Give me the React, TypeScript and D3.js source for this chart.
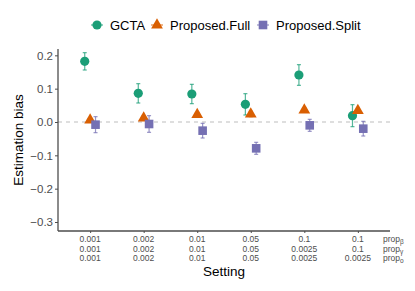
import React, { useEffect, useRef } from 'react';
import * as d3 from 'd3';

const settings = ['s1', 's2', 's3', 's4', 's5', 's6'];
const propBeta = ['0.001', '0.002', '0.01', '0.05', '0.1', '0.1'];
const propGamma = ['0.001', '0.002', '0.01', '0.05', '0.0025', '0.1'];
const propO = ['0.001', '0.002', '0.01', '0.05', '0.0025', '0.0025'];

const methods = ['GCTA', 'Proposed.Full', 'Proposed.Split'];
const colors = ['#1B9E77', '#D95F02', '#7570B3'];

const gctaMean = [0.182, 0.086, 0.084, 0.053, 0.141, 0.019];
const gctaErr = [0.026, 0.029, 0.029, 0.032, 0.031, 0.033];
const fullMean = [0.006, 0.012, 0.022, 0.024, 0.036, 0.034];
const fullErr = [0.006, 0.006, 0.006, 0.008, 0.006, 0.006];
const splitMean = [-0.008, -0.006, -0.026, -0.079, -0.010, -0.020];
const splitErr = [0.024, 0.025, 0.022, 0.018, 0.018, 0.022];

const yTicks = [0.2, 0.1, 0.0, -0.1, -0.2, -0.3];

const W = 415;
const H = 291;
const margin = { top: 49, right: 25, bottom: 60, left: 58 };

const App = () => {
  const svgRef = useRef<SVGSVGElement>(null);

  useEffect(() => {
    const svg = d3.select(svgRef.current);
    svg.selectAll('*').remove();
    const font = 'Liberation Sans, Arial, sans-serif';

    const x = d3.scalePoint().domain(settings).range([margin.left, W - margin.right]).padding(0.6);
    const y = d3.scaleLinear().domain([-0.327, 0.219]).range([H - margin.bottom, margin.top]);
    const dodge = 5.4;

    // zero line
    svg.append('line')
      .attr('x1', margin.left).attr('x2', W - margin.right)
      .attr('y1', y(0)).attr('y2', y(0))
      .attr('stroke', '#BDBDBD').attr('stroke-width', 1).attr('stroke-dasharray', '4,4');

    const series = [
      { mean: gctaMean, err: gctaErr, shape: 'circle', off: -dodge },
      { mean: fullMean, err: fullErr, shape: 'triangle', off: 0 },
      { mean: splitMean, err: splitErr, shape: 'square', off: dodge },
    ];

    const drawShape = (g: any, shape: string, cx: number, cy: number, col: string) => {
      if (shape === 'circle') {
        g.append('circle').attr('cx', cx).attr('cy', cy).attr('r', 4.6).attr('fill', col);
      } else if (shape === 'triangle') {
        const s = d3.symbol().type(d3.symbolTriangle).size(60);
        g.append('path').attr('d', s()).attr('transform', `translate(${cx},${cy})`).attr('fill', col);
      } else {
        g.append('rect').attr('x', cx - 4.3).attr('y', cy - 4.3).attr('width', 8.6).attr('height', 8.6).attr('fill', col);
      }
    };

    series.forEach((s, i) => {
      const g = svg.append('g');
      const col = colors[i];
      settings.forEach((k, j) => {
        const cx = (x(k) as number) + s.off;
        const lo = y(s.mean[j] - s.err[j]);
        const hi = y(s.mean[j] + s.err[j]);
        g.append('line').attr('x1', cx).attr('x2', cx).attr('y1', lo).attr('y2', hi)
          .attr('stroke', col).attr('stroke-opacity', 0.75).attr('stroke-width', 1.2);
        [lo, hi].forEach(v => {
          g.append('line').attr('x1', cx - 2).attr('x2', cx + 2).attr('y1', v).attr('y2', v)
            .attr('stroke', col).attr('stroke-opacity', 0.75).attr('stroke-width', 1.2);
        });
        drawShape(g, s.shape, cx, y(s.mean[j]), col);
      });
    });

    // y axis
    const yAxis = svg.append('g')
      .attr('transform', `translate(${margin.left},0)`)
      .call(d3.axisLeft(y).tickValues(yTicks).tickSize(3).tickPadding(2).tickFormat(d => {
        const v = d as number;
        return v < 0 ? '\u2212' + Math.abs(v).toFixed(1) : v.toFixed(1);
      }));
    yAxis.select('.domain').attr('d', `M0,${margin.top}V${H - margin.bottom}`).attr('stroke', '#4D4D4D').attr('stroke-width', 1.3);
    yAxis.selectAll('.tick line').attr('stroke', '#4D4D4D');
    yAxis.selectAll('.tick text').attr('fill', '#4D4D4D').attr('font-size', 11.5).attr('font-family', font);

    // x axis
    const xAxis = svg.append('g')
      .attr('transform', `translate(0,${H - margin.bottom})`)
      .call(d3.axisBottom(x).tickSize(2).tickFormat(() => ''));
    xAxis.select('.domain').attr('d', `M${margin.left},0H${W - margin.right}`).attr('stroke', '#4D4D4D').attr('stroke-width', 1.3);
    xAxis.selectAll('.tick line').attr('stroke', '#4D4D4D');

    const rows = [propBeta, propGamma, propO];
    rows.forEach((row, r) => {
      settings.forEach((k, j) => {
        svg.append('text')
          .attr('x', x(k) as number).attr('y', 242 + r * 9.5)
          .attr('text-anchor', 'middle').attr('font-size', 8.5).attr('font-family', font)
          .attr('fill', '#4D4D4D').text(row[j]);
      });
    });
    const subs = ['\u03B2', '\u03B3', 'o'];
    subs.forEach((sub, r) => {
      const t = svg.append('text')
        .attr('x', 383).attr('y', 242 + r * 9.5)
        .attr('font-size', 8.5).attr('font-family', font).attr('fill', '#4D4D4D');
      t.append('tspan').text('prop');
      t.append('tspan').attr('font-size', 6.5).attr('dy', 2).text(sub);
    });

    // titles
    svg.append('text').attr('x', (margin.left + W - margin.right) / 2).attr('y', 276)
      .attr('text-anchor', 'middle').attr('font-size', 13.5).attr('font-family', font).text('Setting');
    svg.append('text')
      .attr('transform', `translate(23,${(margin.top + H - margin.bottom) / 2}) rotate(-90)`)
      .attr('text-anchor', 'middle').attr('font-size', 13.5).attr('font-family', font).text('Estimation bias');

    // legend
    const legendX = [97, 157, 263];
    const shapes = ['circle', 'triangle', 'square'];
    methods.forEach((m, i) => {
      const g = svg.append('g');
      const lx = legendX[i];
      g.append('line').attr('x1', lx - 6).attr('x2', lx + 6).attr('y1', 25).attr('y2', 25)
        .attr('stroke', colors[i]).attr('stroke-width', 1.2).attr('stroke-opacity', 0.75);
      drawShape(g, shapes[i], lx, 25, colors[i]);
      g.append('text').attr('x', lx + 13).attr('y', 29.5)
        .attr('font-size', 13).attr('font-family', font).attr('fill', '#000').text(m);
    });
  }, []);

  return (
    <svg ref={svgRef} width={W} height={H} style={{ position: 'absolute', left: 0, top: 0, background: '#fff' }} />
  );
};

export default App;
